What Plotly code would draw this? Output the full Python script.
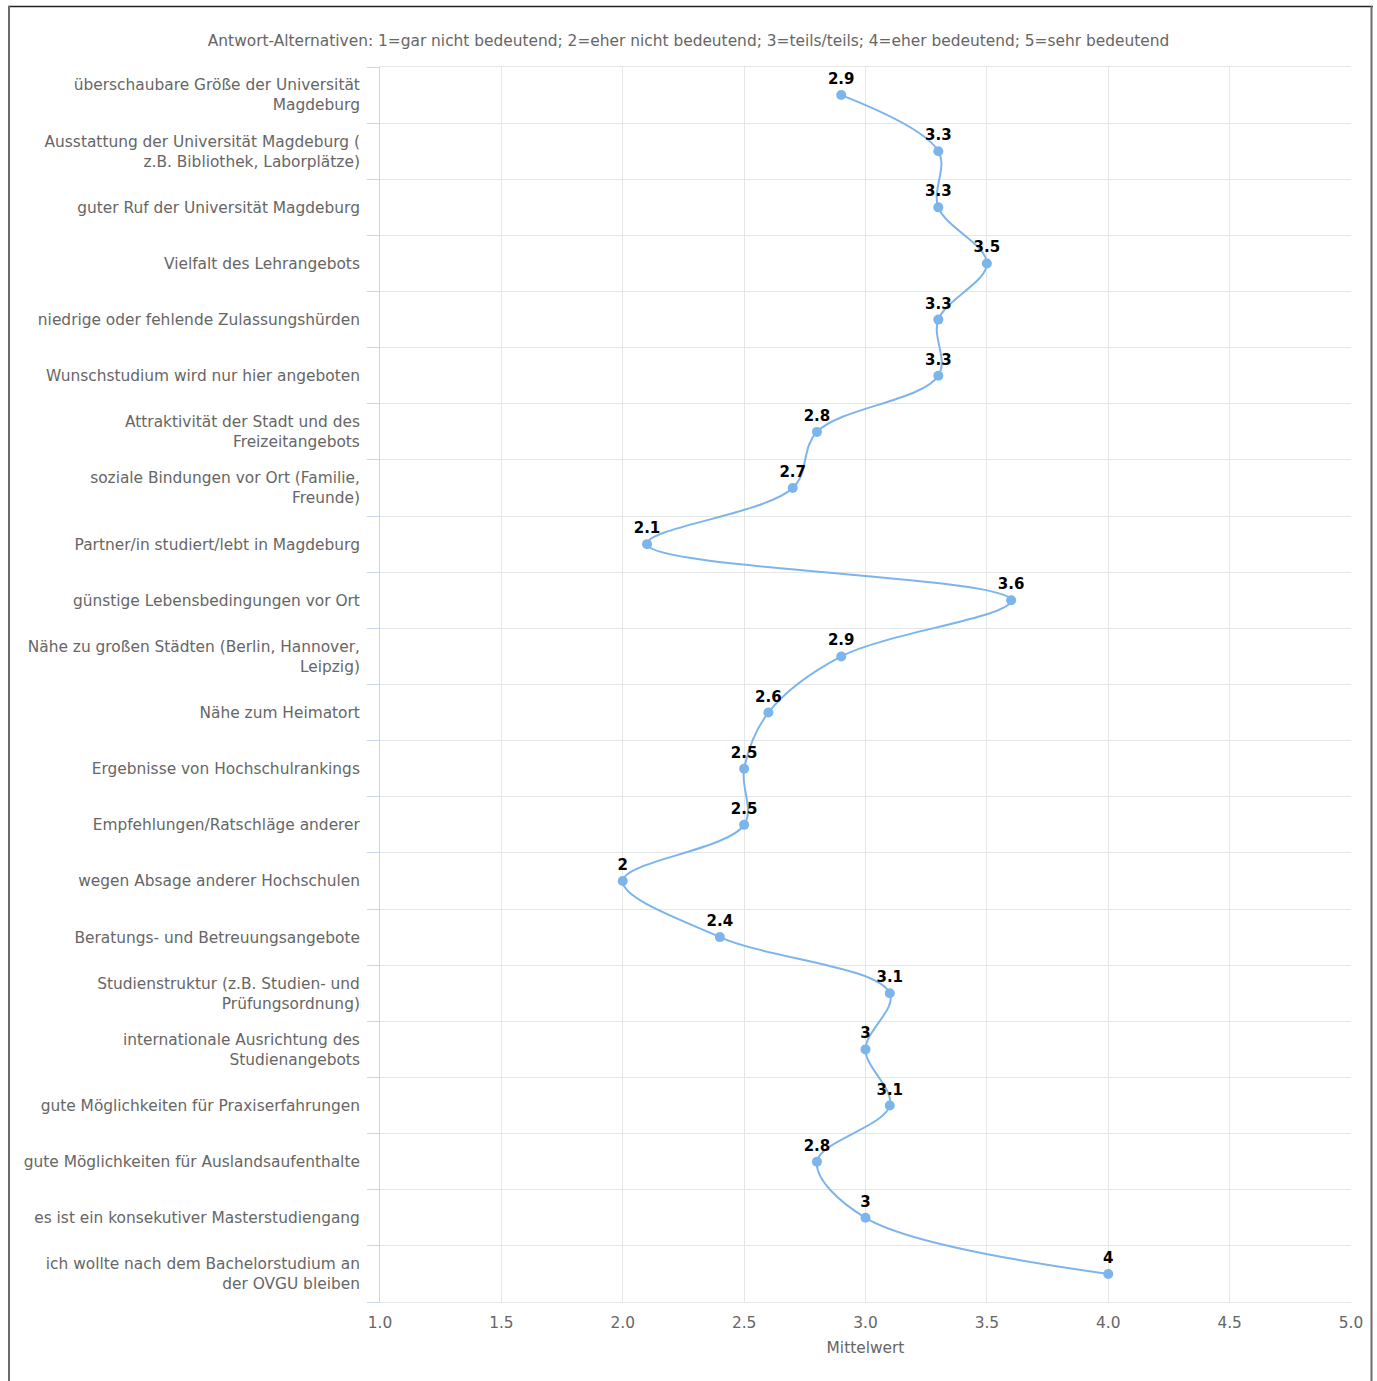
import plotly.graph_objects as go

categories = [
    "überschaubare Größe der Universität<br>Magdeburg",
    "Ausstattung der Universität Magdeburg (<br>z.B. Bibliothek, Laborplätze)",
    "guter Ruf der Universität Magdeburg",
    "Vielfalt des Lehrangebots",
    "niedrige oder fehlende Zulassungshürden",
    "Wunschstudium wird nur hier angeboten",
    "Attraktivität der Stadt und des<br>Freizeitangebots",
    "soziale Bindungen vor Ort (Familie,<br>Freunde)",
    "Partner/in studiert/lebt in Magdeburg",
    "günstige Lebensbedingungen vor Ort",
    "Nähe zu großen Städten (Berlin, Hannover,<br>Leipzig)",
    "Nähe zum Heimatort",
    "Ergebnisse von Hochschulrankings",
    "Empfehlungen/Ratschläge anderer",
    "wegen Absage anderer Hochschulen",
    "Beratungs- und Betreuungsangebote",
    "Studienstruktur (z.B. Studien- und<br>Prüfungsordnung)",
    "internationale Ausrichtung des<br>Studienangebots",
    "gute Möglichkeiten für Praxiserfahrungen",
    "gute Möglichkeiten für Auslandsaufenthalte",
    "es ist ein konsekutiver Masterstudiengang",
    "ich wollte nach dem Bachelorstudium an<br>der OVGU bleiben",
]
values = [2.9, 3.3, 3.3, 3.5, 3.3, 3.3, 2.8, 2.7, 2.1, 3.6, 2.9, 2.6, 2.5, 2.5,
          2, 2.4, 3.1, 3, 3.1, 2.8, 3, 4]
x_ticks = [1.0, 1.5, 2.0, 2.5, 3.0, 3.5, 4.0, 4.5, 5.0]

title_text = ("Antwort-Alternativen: 1=gar nicht bedeutend; 2=eher nicht bedeutend; "
              "3=teils/teils; 4=eher bedeutend; 5=sehr bedeutend")
x_title = "Mittelwert"

idx = list(range(len(categories)))
FONT = "DejaVu Sans"
FS = 15.4

fig = go.Figure()
fig.add_trace(go.Scatter(
    x=values, y=idx,
    mode="lines+markers+text",
    line=dict(color="#7cb5ec", width=2, shape="spline", smoothing=1),
    marker=dict(color="#7cb5ec", size=10),
    text=[f"{v:g}" for v in values],
    texttemplate="<b>%{text}</b>",
    textposition="top center",
    textfont=dict(family=FONT, size=15, color="#000000"),
    hoverinfo="skip",
    showlegend=False,
    cliponaxis=False,
))

W, H = 1377, 1381
L, R, T, B = 380, 1351, 67, 1302
pw, ph = R - L, B - T

def px_x(p):
    return (p - L) / pw

def px_y(p):
    return (B - p) / ph

frame_shapes = [
    dict(type="line", xref="paper", yref="paper", x0=px_x(8), x1=px_x(1373),
         y0=px_y(6.5), y1=px_y(6.5), line=dict(color="#222222", width=1.5)),
    dict(type="line", xref="paper", yref="paper", x0=px_x(9), x1=px_x(9),
         y0=px_y(6), y1=px_y(1395), line=dict(color="#6b6b6b", width=2)),
    dict(type="line", xref="paper", yref="paper", x0=px_x(1371.5), x1=px_x(1371.5),
         y0=px_y(6), y1=px_y(1395), line=dict(color="#6b6b6b", width=2)),
]

fig.update_layout(
    width=W, height=H,
    margin=dict(l=L, r=W - R, t=T, b=H - B, pad=0),
    paper_bgcolor="white", plot_bgcolor="white",
    font=dict(family=FONT, size=FS, color="#666666"),
    title=dict(text=title_text, x=0.5, xref="container", xanchor="center",
               y=1 - 41 / H, yref="container", yanchor="middle",
               font=dict(family=FONT, size=FS, color="#666666")),
    shapes=frame_shapes,
    xaxis=dict(
        range=[1, 5], tickvals=x_ticks, ticktext=[f"{t:.1f}" for t in x_ticks],
        showgrid=True, gridcolor="#e6e6e6", gridwidth=1,
        zeroline=False, showline=True, linecolor="#e6e6e6", linewidth=1, mirror=True,
        ticks="outside", ticklen=7, tickcolor="rgba(0,0,0,0)",
        tickfont=dict(family=FONT, size=FS, color="#666666"),
        title=dict(text=x_title, standoff=10,
                   font=dict(family=FONT, size=FS, color="#666666")),
    ),
    yaxis=dict(
        range=[len(categories) - 0.5, -0.5],
        tickmode="array", tickvals=idx, ticktext=categories,
        showgrid=False, zeroline=False,
        showline=True, linecolor="#ccd6eb", linewidth=1,
        ticks="outside", ticklen=16, tickcolor="rgba(0,0,0,0)",
        tickfont=dict(family=FONT, size=FS, color="#666666"),
        minor=dict(tickmode="linear", tick0=0.5, dtick=1, showgrid=True,
                   gridcolor="#e6e6e6", gridwidth=1,
                   ticks="outside", ticklen=12, tickcolor="#ccd6eb", tickwidth=1),
    ),
)

fig.write_html("out.html", config={"displayModeBar": False},
               post_script="document.body.style.margin='0';")
